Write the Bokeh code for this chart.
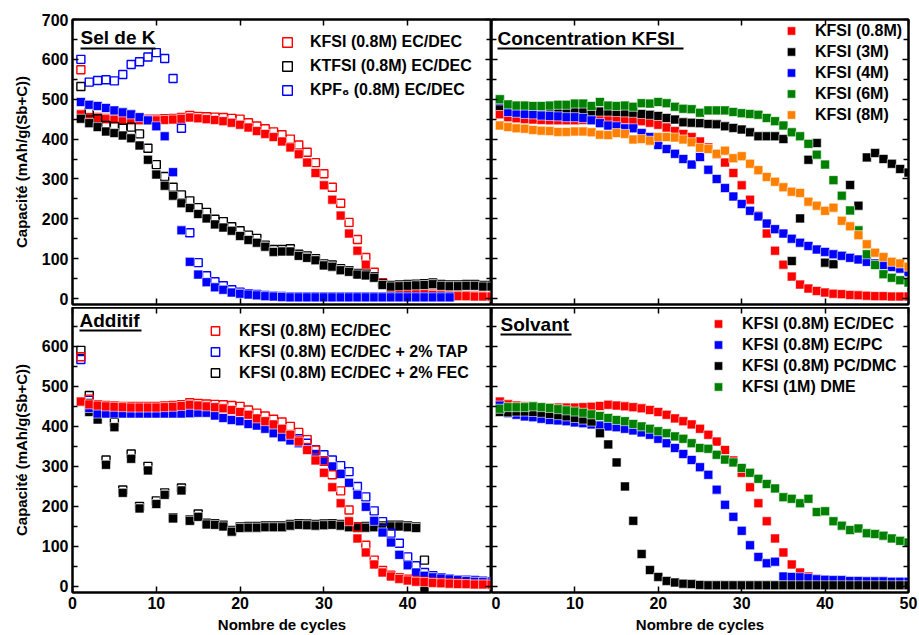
from bokeh.plotting import figure
from bokeh.models import Range1d, LinearAxis, FixedTicker, Legend, LegendItem, Label, BoxAnnotation
from bokeh.layouts import gridplot
from bokeh.embed import file_html
from bokeh.resources import INLINE

FONT = "Liberation Sans"

# ---------------- data ----------------
cycles = list(range(1, 51))
x_ticks = [0, 10, 20, 30, 40, 50]
x_ticks_left = [0, 10, 20, 30, 40]
y_ticks = [0, 100, 200, 300, 400, 500, 600, 700]
y_minor = [50, 150, 250, 350, 450, 550, 650]

# KFSI (0.8M) EC/DEC reference (shared by all panels)
ref_dis = [462, 455, 452, 450, 449, 448, 447, 447, 447, 447, 448, 449, 451, 454, 452,
           450, 448, 445, 441, 436, 429, 420, 413, 405, 394, 379, 362, 341, 315, 284,
           248, 208, 163, 120, 85, 55, 35, 25, 19, 15, 12, 11, 9, 8, 7, 6, 6, 5, 5, 5]
ref_ch = [574, 468, 454, 452, 451, 450, 450, 450, 450, 450, 451, 452, 454, 459, 457,
          456, 455, 454, 452, 450, 441, 433, 426, 418, 411, 400, 385, 367, 341, 313,
          279, 239, 191, 148, 103, 66, 40, 28, 22, 18, 15, 13, 11, 10, 9, 8, 7, 6, 6, 5]

# Sel de K
ktfsi_dis = [451, 440, 430, 419, 415, 409, 402, 384, 348, 311, 283, 258, 239, 227, 212,
             201, 186, 178, 170, 157, 147, 140, 130, 117, 118, 118, 107, 102, 96, 83,
             80, 71, 67, 60, 58, 52, 34, 30, 31, 32, 33, 34, 36, 32, 31, 31, 32, 32, 30, 30]
ktfsi_ch = [532, 468, 451, 434, 432, 427, 430, 413, 377, 336, 306, 279, 260, 245, 228,
            216, 199, 193, 180, 170, 159, 151, 134, 123, 123, 125, 111, 107, 100, 87,
            84, 75, 70, 63, 61, 55, 37, 33, 34, 35, 36, 37, 39, 35, 34, 34, 35, 35, 33, 33]
kpf6_cycles = list(range(1, 46))
kpf6_dis = [493, 486, 483, 478, 472, 467, 462, 455, 447, 432, 407, 317, 171, 92, 60,
            41, 28, 22, 15, 12, 10, 8, 6, 5, 4, 3, 3, 3, 3, 3,
            3, 3, 3, 3, 3, 3, 3, 3, 3, 3, 3, 3, 3, 3, 3]
kpf6_ch = [600, 543, 547, 549, 546, 562, 587, 594, 606, 617, 602, 552, 427, 165, 90,
           57, 42, 32, 22, 16, 12, 10, 8, 6, 5, 4, 4, 4, 4, 4,
           4, 4, 4, 4, 4, 4, 4, 4, 4, 4, 4, 4, 4, 4, 4]

# Concentration KFSI
conc_3 = [483, 476, 474, 472, 472, 472, 470, 470, 471, 471, 470, 469, 469, 469, 468,
          467, 466, 463, 461, 458, 453, 449, 442, 441, 440, 438, 437, 432, 428, 424,
          417, 407, 407, 407, 400, 94, 201, 348, 390, 90, 86, 107, 285, 233, 354,
          365, 350, 338, 325, 316]
conc_4 = [497, 468, 466, 463, 462, 459, 458, 457, 455, 455, 453, 447, 440, 434, 432,
          427, 427, 415, 405, 385, 375, 363, 350, 336, 355, 323, 300, 277, 256, 237,
          220, 206, 188, 174, 163, 150, 140, 132, 123, 117, 111, 107, 102, 98, 92,
          88, 84, 79, 75, 66]
conc_6 = [500, 487, 484, 484, 483, 483, 484, 486, 486, 489, 489, 483, 493, 484, 483,
          484, 481, 490, 489, 493, 490, 481, 476, 475, 466, 472, 472, 472, 468, 465,
          463, 461, 453, 445, 434, 417, 407, 388, 361, 336, 297, 258, 221, 171, 111,
          84, 61, 52, 46, 40]
conc_8 = [434, 430, 427, 426, 423, 421, 420, 418, 418, 419, 419, 417, 411, 410, 415,
          413, 399, 400, 396, 405, 405, 404, 399, 392, 378, 375, 363, 371, 352, 357,
          338, 322, 305, 293, 279, 268, 265, 243, 233, 220, 228, 195, 181, 159, 136,
          115, 104, 92, 88, 80]

# Additif
tap_dis = [462, 446, 432, 432, 432, 432, 432, 432, 432, 432, 432, 432, 432, 433, 434,
           434, 427, 421, 416, 413, 406, 402, 394, 383, 373, 365, 358, 348, 331, 315,
           300, 281, 259, 229, 199, 164, 135, 110, 79, 53, 35, 27, 23, 20, 18,
           16, 14, 12, 11, 10]
tap_ch = [567, 465, 436, 435, 435, 435, 435, 435, 435, 435, 435, 435, 435, 435, 435,
          435, 433, 430, 425, 421, 416, 410, 405, 396, 388, 379, 369, 358, 342, 329,
          316, 302, 287, 250, 224, 189, 162, 133, 108, 74, 52, 35, 27, 22, 19,
          17, 16, 15, 13, 12]
fec_cycles = list(range(1, 43))
fec_dis = [461, 436, 417, 304, 398, 234, 319, 195, 290, 206, 229, 170, 240, 164, 174,
           155, 154, 150, 137, 146, 147, 147, 148, 148, 148, 152, 154, 153, 152, 153,
           154, 152, 148, 146, 147, 148, 148, 150, 150, 148, 146, -5]
fec_ch = [590, 477, 436, 316, 410, 241, 331, 200, 300, 214, 234, 172, 246, 166, 181,
          158, 157, 153, 140, 149, 150, 150, 151, 151, 151, 155, 157, 156, 155, 156,
          157, 155, 151, 149, 150, 151, 151, 153, 153, 151, 149, 66]

# Solvant
ecpc = [452, 433, 429, 425, 423, 419, 416, 415, 413, 410, 408, 405, 402, 400, 398,
        394, 390, 385, 379, 369, 358, 346, 331, 316, 298, 279, 242, 204, 174, 139,
        103, 74, 58, 62, 25, 24, 23, 21, 18, 17, 16, 16, 14, 14, 13,
        13, 13, 12, 12, 12]
pcdmc = [436, 435, 437, 437, 436, 434, 431, 428, 425, 421, 417, 412, 383, 355, 310,
         250, 164, 81, 41, 24, 14, 10, 7, 6, 4, 3, 3, 3, 3, 3,
         3, 3, 3, 3, 3, 3, 3, 3, 3, 3, 3, 3, 3, 3, 3,
         3, 3, 3, 3, 3]
dme = [444, 448, 448, 448, 450, 448, 446, 443, 440, 437, 434, 430, 426, 421, 416,
       413, 406, 400, 394, 388, 383, 375, 369, 358, 346, 344, 329, 317, 310, 296,
       284, 269, 256, 245, 223, 219, 208, 219, 186, 188, 163, 152, 141, 145, 133,
       131, 127, 120, 114, 110]

RED, BLACK, BLUE, GREEN, ORANGE = "#FF0000", "#000000", "#0000FF", "#008000", "#FF8000"

FRAME_H = 285


def make_fig(fw, left, right, top, bottom, ytop):
    p = figure(frame_width=fw, frame_height=FRAME_H,
               x_range=Range1d(0, 50), y_range=Range1d(-15, ytop),
               output_backend="svg", toolbar_location=None,
               x_axis_location=None, y_axis_location=None,
               min_border_left=left, min_border_right=right,
               min_border_top=top, min_border_bottom=bottom)
    p.grid.visible = False
    p.outline_line_color = "black"
    p.outline_line_width = 2
    p.background_fill_color = "white"
    p.border_fill_color = "white"
    return p


def add_axis(p, side, labels=True, ticks=None, axis_label=None):
    if side in ("left", "right"):
        ticker = FixedTicker(ticks=y_ticks, minor_ticks=y_minor)
    else:
        ticker = FixedTicker(ticks=ticks or x_ticks)
    ax = LinearAxis(ticker=ticker)
    ax.axis_line_width = 2
    ax.axis_line_color = "black"
    ax.major_tick_in = 6
    ax.major_tick_out = 0
    ax.minor_tick_in = 5
    ax.minor_tick_out = 0
    ax.major_tick_line_width = 1.5
    ax.minor_tick_line_width = 1.5
    ax.major_label_text_font = FONT
    ax.major_label_text_font_style = "bold"
    ax.major_label_text_font_size = "16px"
    if labels:
        ax.major_label_text_color = "black"
        ax.major_label_standoff = 4
    else:
        ax.major_label_text_color = None
        ax.major_label_standoff = 0
    if axis_label:
        ax.axis_label = axis_label
        ax.axis_label_text_font = FONT
        ax.axis_label_text_font_style = "bold"
        ax.axis_label_text_color = "black"
        ax.axis_label_text_font_size = "15px"
        ax.axis_label_standoff = 9 if side == "left" else 4
    p.add_layout(ax, side)
    return ax


def pts(p, x, y, color, filled):
    if filled:
        return p.scatter(x, y, marker="square", size=9, fill_color=color,
                         line_color="white", line_width=0.6)
    return p.scatter(x, y, marker="square", size=8, fill_color=None,
                     line_color=color, line_width=1.4)


def title(p, text, x, mid_from_top, ul_from_top, width):
    p.add_layout(Label(x=x, y=FRAME_H - mid_from_top, x_units="screen", y_units="screen",
                       text=text, text_font=FONT, text_font_style="bold",
                       text_font_size="19px", text_color="black",
                       text_align="left", text_baseline="middle"))
    ub = FRAME_H - ul_from_top
    p.add_layout(BoxAnnotation(left=x, right=x + width, bottom=ub - 1, top=ub + 1,
                               left_units="screen", right_units="screen",
                               top_units="screen", bottom_units="screen",
                               fill_color="black", fill_alpha=1, line_alpha=0))


def legend(p, items, x, y, gh, standoff):
    lg = Legend(items=[LegendItem(label=t, renderers=[r]) for t, r in items],
                location=(x, y), padding=0, margin=0, spacing=0,
                glyph_width=26, glyph_height=gh, label_height=14,
                label_standoff=standoff, background_fill_alpha=0,
                border_line_alpha=0, label_text_font=FONT,
                label_text_font_style="bold", label_text_font_size="16px",
                label_text_color="black")
    p.add_layout(lg, "center")


YLAB = "Capacité (mAh/g(Sb+C))"

# ---------------- panel 1 : Sel de K ----------------
p1 = make_fig(419, 72, 0, 19, 3, 700)
add_axis(p1, "left", axis_label=YLAB)
add_axis(p1, "right", labels=False)
add_axis(p1, "above", labels=False)
add_axis(p1, "below", labels=False)
r_kfsi_o = pts(p1, cycles, ref_ch, RED, False)
pts(p1, cycles, ref_dis, RED, True)
r_ktfsi_o = pts(p1, cycles, ktfsi_ch, BLACK, False)
pts(p1, cycles, ktfsi_dis, BLACK, True)
r_kpf6_o = pts(p1, kpf6_cycles, kpf6_ch, BLUE, False)
pts(p1, kpf6_cycles, kpf6_dis, BLUE, True)
title(p1, "Sel de K", 8, 18, 29, 75)
legend(p1, [("KFSI (0.8M) EC/DEC", r_kfsi_o), ("KTFSI (0.8M) EC/DEC", r_ktfsi_o),
            ("KPF\u2086 (0.8M) EC/DEC", r_kpf6_o)], 202, 202, 24, 10)

# ---------------- panel 2 : Concentration KFSI ----------------
p2 = make_fig(417, 0, 11, 19, 3, 700)
add_axis(p2, "left", labels=False)
add_axis(p2, "right", labels=False)
add_axis(p2, "above", labels=False)
add_axis(p2, "below", labels=False)
r08 = pts(p2, cycles, ref_dis, RED, True)
r3 = pts(p2, cycles, conc_3, BLACK, True)
r4 = pts(p2, cycles, conc_4, BLUE, True)
r6 = pts(p2, cycles, conc_6, GREEN, True)
r8 = pts(p2, cycles, conc_8, ORANGE, True)
title(p2, "Concentration KFSI", 6, 19, 29, 186)
legend(p2, [("KFSI (0.8M)", r08), ("KFSI (3M)", r3), ("KFSI (4M)", r4),
            ("KFSI (6M)", r6), ("KFSI (8M)", r8)], 287, 179, 21, 11)

# ---------------- panel 3 : Additif ----------------
p3 = make_fig(419, 72, 0, 0, 43, 697)
add_axis(p3, "left", axis_label=YLAB)
add_axis(p3, "right", labels=False)
add_axis(p3, "above", labels=False)
add_axis(p3, "below", ticks=x_ticks_left, axis_label="Nombre de cycles")
r_fec_o = pts(p3, fec_cycles, fec_ch, BLACK, False)
pts(p3, fec_cycles, fec_dis, BLACK, True)
r_tap_o = pts(p3, cycles, tap_ch, BLUE, False)
pts(p3, cycles, tap_dis, BLUE, True)
r_ref_o = pts(p3, cycles, ref_ch, RED, False)
pts(p3, cycles, ref_dis, RED, True)
title(p3, "Additif", 7, 13, 23, 62)
legend(p3, [("KFSI (0.8M) EC/DEC", r_ref_o), ("KFSI (0.8M) EC/DEC + 2% TAP", r_tap_o),
            ("KFSI (0.8M) EC/DEC + 2% FEC", r_fec_o)], 130, 209, 21, 11)

# ---------------- panel 4 : Solvant ----------------
p4 = make_fig(417, 0, 11, 0, 43, 697)
add_axis(p4, "left", labels=False)
add_axis(p4, "right", labels=False)
add_axis(p4, "above", labels=False)
add_axis(p4, "below", axis_label="Nombre de cycles")
s1 = pts(p4, cycles, ref_dis, RED, True)
s2 = pts(p4, cycles, ecpc, BLUE, True)
s3 = pts(p4, cycles, pcdmc, BLACK, True)
s4 = pts(p4, cycles, dme, GREEN, True)
title(p4, "Solvant", 9, 17, 27, 71)
legend(p4, [("KFSI (0.8M) EC/DEC", s1), ("KFSI (0.8M) EC/PC", s2),
            ("KFSI (0.8M) PC/DMC", s3), ("KFSI (1M) DME", s4)], 214, 195, 21, 11)

grid = gridplot([[p1, p2], [p3, p4]], toolbar_location=None)

open("out.html", "w").write(file_html(grid, INLINE))
